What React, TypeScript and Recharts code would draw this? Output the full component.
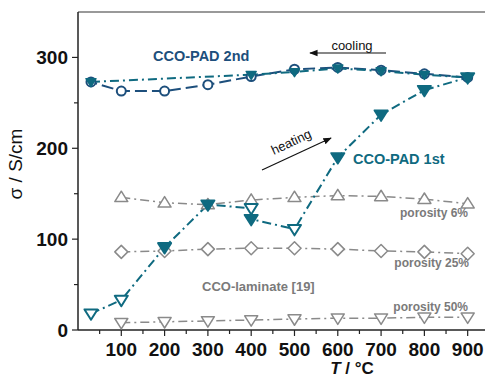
import React from "react";
import { LineChart, Line, XAxis, YAxis, ReferenceLine } from "recharts";

// ---- data ----
const T_LAM = [100, 200, 300, 400, 500, 600, 700, 800, 900];
const POR6 = [146, 140, 138, 143, 146, 148, 147, 144, 139];
const POR25 = [86, 87, 89, 90, 90, 89, 87, 86, 84];
const POR50 = [8, 9, 10, 11, 12, 13, 13, 14, 14];

const T_2ND_COOL = [900, 800, 700, 600, 500, 400, 300, 200, 100, 30];
const PAD2_COOL = [278, 282, 286, 289, 287, 279, 270, 263, 263, 273];

const T_2ND_HEAT = [30, 400, 500, 600, 700, 800, 900];
const PAD2_HEAT = [273, 281, 284, 288, 285, 281, 278];

const T_1ST = [30, 100, 200, 300, 400, 400, 500, 600, 700, 800, 900];
const PAD1 = [18, 33, 91, 138, 134, 122, 111, 190, 237, 264, 278];

const X_TICKS = [50, 100, 150, 200, 250, 300, 350, 400, 450, 500, 550, 600, 650, 700, 750, 800, 850, 900];
const Y_TICKS = [0, 50, 100, 150, 200, 250, 300];
const X_LABELS = [100, 200, 300, 400, 500, 600, 700, 800, 900];
const Y_LABELS = [0, 100, 200, 300];

const zip = (xs: number[], ys: number[]) => xs.map((T, i) => ({ T, v: ys[i] }));

const lam6 = zip(T_LAM, POR6);
const lam25 = zip(T_LAM, POR25);
const lam50 = zip(T_LAM, POR50);
const pad2Cool = zip(T_2ND_COOL, PAD2_COOL);
const pad2Heat = zip(T_2ND_HEAT, PAD2_HEAT);
const pad1 = zip(T_1ST, PAD1);

// ---- styles ----
const GRAY = "#8a8a8a";
const GRAY_TEXT = "#7a7a7a";
const DARK_BLUE = "#1d4f7c";
const TEAL = "#0f6a80";
const AXIS = "#222";
const FONT = "'Liberation Sans', Arial, sans-serif";
const PAD1_FILLED_IDX = [2, 3, 5, 7, 8, 9, 10];

const triDown = (cx: number, cy: number, s: number) =>
  `${cx - s},${cy - s * 0.65} ${cx + s},${cy - s * 0.65} ${cx},${cy + s * 0.95}`;
const triUp = (cx: number, cy: number, s: number) =>
  `${cx - s},${cy + s * 0.65} ${cx + s},${cy + s * 0.65} ${cx},${cy - s * 0.95}`;
const diamond = (cx: number, cy: number, s: number) =>
  `${cx - s},${cy} ${cx},${cy - s} ${cx + s},${cy} ${cx},${cy + s}`;

const mk = (kind: string, color: string, fillFn?: (i: number) => boolean, size = 6, sw = 1.5) =>
  (props: any) => {
    const { cx, cy, index } = props;
    const key = `${kind}-${index}`;
    if (cx == null || cy == null) return <g key={key} />;
    const filled = fillFn ? fillFn(index) : false;
    const fill = filled ? color : "#fff";
    if (kind === "circle")
      return <circle key={key} cx={cx} cy={cy} r={size} fill={fill} stroke={color} strokeWidth={sw} />;
    const pts = kind === "up" ? triUp(cx, cy, size) : kind === "diamond" ? diamond(cx, cy, size) : triDown(cx, cy, size);
    return <polygon key={key} points={pts} fill={fill} stroke={color} strokeWidth={sw} strokeLinejoin="round" />;
  };

const XTick = (props: any) => {
  const { x, y, payload } = props;
  const v = payload.value;
  const major = X_LABELS.includes(v);
  return (
    <g>
      <line x1={x} y1={y} x2={x} y2={y + (major ? 6 : 4)} stroke={AXIS} strokeWidth={1.2} />
      {major && (
        <text x={x} y={y + 26} textAnchor="middle" fontFamily={FONT} fontWeight="bold" fontSize={19} fill="#111">
          {v}
        </text>
      )}
    </g>
  );
};

const YTick = (props: any) => {
  const { x, y, payload } = props;
  const v = payload.value;
  const major = Y_LABELS.includes(v);
  return (
    <g>
      <line x1={x} y1={y} x2={x - (major ? 6 : 4)} y2={y} stroke={AXIS} strokeWidth={1.2} />
      {major && (
        <text x={x - 10} y={y + 7} textAnchor="end" fontFamily={FONT} fontWeight="bold" fontSize={19} fill="#111">
          {v}
        </text>
      )}
    </g>
  );
};

export default function App() {
  return (
    <div style={{ position: "absolute", left: 0, top: 0, width: 485, height: 377, background: "#fff" }}>
      <LineChart width={485} height={377} margin={{ top: 12, right: 0, bottom: 0, left: 0 }}>
        <XAxis
          dataKey="T"
          type="number"
          domain={[0, 940]}
          ticks={X_TICKS}
          interval={0}
          height={47}
          tickSize={0}
          tickMargin={0}
          tickLine={false}
          axisLine={{ stroke: AXIS, strokeWidth: 1.5 }}
          tick={<XTick />}
          allowDuplicatedCategory={false}
        />
        <YAxis
          dataKey="v"
          type="number"
          domain={[0, 350]}
          ticks={Y_TICKS}
          interval={0}
          width={78}
          tickSize={0}
          tickMargin={0}
          tickLine={false}
          axisLine={{ stroke: AXIS, strokeWidth: 1.5 }}
          tick={<YTick />}
        />
        <ReferenceLine y={350} stroke="#777" strokeWidth={1.5} />

        <Line data={lam6} dataKey="v" stroke={GRAY} strokeWidth={1.5} strokeDasharray="9 4 2 4" isAnimationActive={false} dot={mk("up", GRAY, undefined, 6.5)} activeDot={false} />
        <Line data={lam25} dataKey="v" stroke={GRAY} strokeWidth={1.5} strokeDasharray="9 4 2 4" isAnimationActive={false} dot={mk("diamond", GRAY, undefined, 6.5)} activeDot={false} />
        <Line data={lam50} dataKey="v" stroke={GRAY} strokeWidth={1.5} strokeDasharray="9 4 2 4" isAnimationActive={false} dot={mk("down", GRAY, undefined, 6.5)} activeDot={false} />

        <Line data={pad2Cool} dataKey="v" stroke={DARK_BLUE} strokeWidth={2} strokeDasharray="12 5" isAnimationActive={false} dot={mk("circle", DARK_BLUE, undefined, 4.5, 2)} activeDot={false} />
        <Line data={pad2Heat} dataKey="v" stroke={TEAL} strokeWidth={2} strokeDasharray="9 4 2 4" isAnimationActive={false} dot={mk("down", TEAL, () => true, 5, 1.5)} activeDot={false} />
        <Line data={pad1} dataKey="v" stroke={TEAL} strokeWidth={2} strokeDasharray="9 4 2 4" isAnimationActive={false} dot={mk("down", TEAL, (i) => PAD1_FILLED_IDX.includes(i), 6.5, 2)} activeDot={false} />
      </LineChart>

      <svg width={485} height={377} style={{ position: "absolute", left: 0, top: 0, pointerEvents: "none" }}>
        <defs>
          <marker id="arr" viewBox="0 0 10 10" refX="9" refY="5" markerWidth="7" markerHeight="7" orient="auto-start-reverse">
            <path d="M0,1 L10,5 L0,9 z" fill="#111" />
          </marker>
        </defs>
        <text x={15} y={164} transform="rotate(-90 15 164)" textAnchor="middle" dominantBaseline="central" fontFamily={FONT} fontSize={19} fill="#111">
          σ / S/cm
        </text>
        <text x={352} y={374} textAnchor="middle" fontFamily={FONT} fontWeight="bold" fontSize={17} fill="#111">
          <tspan fontStyle="italic">T</tspan> / °C
        </text>

        <text x={153} y={61} fontFamily={FONT} fontWeight="bold" fontSize={14.5} fill={DARK_BLUE}>CCO-PAD 2nd</text>
        <text x={353} y={164} fontFamily={FONT} fontWeight="bold" fontSize={14.5} fill={TEAL}>CCO-PAD 1st</text>
        <text x={202} y={291} fontFamily={FONT} fontWeight="bold" fontSize={13} fill={GRAY_TEXT}>CCO-laminate [19]</text>
        <text x={468} y={217} textAnchor="end" fontFamily={FONT} fontWeight="bold" fontSize={12} fill={GRAY_TEXT}>porosity 6%</text>
        <text x={469} y={267} textAnchor="end" fontFamily={FONT} fontWeight="bold" fontSize={12} fill={GRAY_TEXT}>porosity 25%</text>
        <text x={468} y={311} textAnchor="end" fontFamily={FONT} fontWeight="bold" fontSize={12} fill={GRAY_TEXT}>porosity 50%</text>

        <text x={352} y={50} textAnchor="middle" fontFamily={FONT} fontSize={13} fill="#111">cooling</text>
        <line x1={386} y1={53} x2={310} y2={53} stroke="#111" strokeWidth={1.2} markerEnd="url(#arr)" />

        <text x={293} y={146} textAnchor="middle" transform="rotate(-25 293 146)" fontFamily={FONT} fontSize={13} fill="#111">heating</text>
        <line x1={262} y1={170} x2={331} y2={138} stroke="#111" strokeWidth={1.2} markerEnd="url(#arr)" />
      </svg>
    </div>
  );
}
